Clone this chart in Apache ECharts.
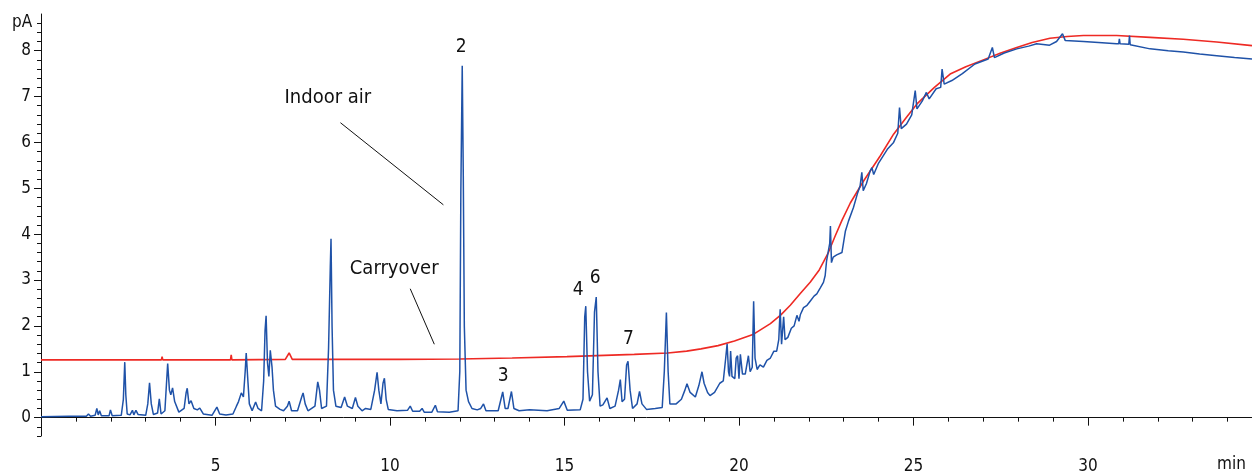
<!DOCTYPE html>
<html>
<head>
<meta charset="utf-8">
<script src="https://cdn.jsdelivr.net/npm/echarts@6/dist/echarts.min.js"></script>
<style>
html,body{margin:0;padding:0;background:#fff;}
#chart{width:1252px;height:473px;}
</style>
</head>
<body>
<div id="chart"></div>
<script>
// chromatogram traces, [time (min), signal (pA)]
var indoorAir = [
  [0.0,0.02],[0.8,0.03],[1.30,0.03],[1.36,0.08],[1.42,0.03],[1.55,0.05],[1.60,0.2],[1.64,0.06],[1.68,0.15],[1.73,0.04],
  [1.95,0.04],[1.99,0.17],[2.04,0.04],[2.30,0.05],[2.36,0.4],[2.40,1.21],[2.43,0.5],[2.47,0.08],[2.55,0.06],[2.62,0.16],
  [2.66,0.06],[2.72,0.16],[2.78,0.07],[3.0,0.05],[3.06,0.3],[3.11,0.76],[3.16,0.3],[3.22,0.07],[3.34,0.1],[3.39,0.41],
  [3.44,0.08],[3.55,0.15],[3.60,0.8],[3.63,1.18],[3.68,0.6],[3.72,0.5],[3.77,0.65],[3.83,0.35],[3.95,0.12],[4.10,0.2],
  [4.16,0.55],[4.19,0.64],[4.24,0.3],[4.30,0.37],[4.38,0.2],[4.48,0.17],[4.55,0.21],[4.65,0.08],[4.9,0.05],[5.04,0.23],
  [5.12,0.08],[5.3,0.06],[5.5,0.08],[5.60,0.25],[5.66,0.35],[5.74,0.54],[5.80,0.45],[5.85,1.0],[5.88,1.41],[5.92,0.9],
  [5.97,0.3],[6.05,0.15],[6.15,0.34],[6.22,0.2],[6.32,0.15],[6.38,0.8],[6.42,1.9],[6.45,2.22],[6.49,1.2],[6.53,0.9],
  [6.57,1.47],[6.62,1.1],[6.66,0.6],[6.72,0.25],[6.85,0.18],[6.95,0.15],[7.06,0.25],[7.11,0.36],[7.18,0.15],[7.35,0.15],
  [7.47,0.45],[7.51,0.54],[7.57,0.3],[7.65,0.15],[7.85,0.25],[7.93,0.78],[7.98,0.6],[8.04,0.2],[8.18,0.25],[8.24,1.52],
  [8.29,3.3],[8.31,3.9],[8.34,2.0],[8.38,0.6],[8.45,0.25],[8.6,0.22],[8.70,0.45],[8.78,0.25],[8.92,0.2],[9.01,0.44],
  [9.08,0.25],[9.2,0.15],[9.3,0.2],[9.45,0.18],[9.56,0.6],[9.63,0.99],[9.68,0.6],[9.74,0.3],[9.80,0.75],[9.84,0.86],
  [9.89,0.4],[9.95,0.18],[10.2,0.15],[10.5,0.16],[10.58,0.25],[10.65,0.14],[10.85,0.14],[10.92,0.2],[10.98,0.12],[11.2,0.12],
  [11.3,0.27],[11.36,0.13],[11.7,0.12],[11.95,0.15],[12.00,1.0],[12.03,4.9],[12.07,7.67],[12.10,5.3],[12.13,2.0],[12.18,0.6],
  [12.25,0.35],[12.35,0.2],[12.5,0.17],[12.6,0.2],[12.68,0.3],[12.75,0.15],[13.1,0.15],[13.23,0.56],[13.3,0.2],[13.38,0.2],
  [13.48,0.57],[13.55,0.2],[13.7,0.15],[14.0,0.17],[14.5,0.15],[14.85,0.2],[14.98,0.36],[15.08,0.16],[15.45,0.17],[15.53,0.4],
  [15.58,2.2],[15.61,2.43],[15.66,1.0],[15.72,0.36],[15.80,0.5],[15.86,2.3],[15.91,2.63],[15.96,1.0],[16.02,0.25],[16.1,0.28],
  [16.22,0.43],[16.3,0.2],[16.45,0.25],[16.55,0.6],[16.6,0.83],[16.65,0.35],[16.72,0.4],[16.78,1.15],[16.82,1.23],[16.88,0.6],
  [16.95,0.2],[17.08,0.3],[17.15,0.57],[17.22,0.3],[17.35,0.18],[17.6,0.2],[17.8,0.22],[17.86,1.0],[17.92,2.29],[17.97,1.0],
  [18.02,0.3],[18.2,0.3],[18.35,0.4],[18.45,0.6],[18.51,0.74],[18.6,0.55],[18.75,0.45],[18.85,0.7],[18.94,1.0],[19.0,0.75],
  [19.1,0.55],[19.17,0.48],[19.3,0.55],[19.45,0.75],[19.55,0.8],[19.62,1.3],[19.66,1.61],[19.7,1.0],[19.73,0.9],[19.76,1.45],
  [19.8,0.9],[19.88,0.85],[19.92,1.3],[19.96,1.35],[20.0,0.85],[20.04,1.38],[20.1,0.95],[20.18,0.95],[20.27,1.35],[20.32,1.0],
  [20.38,1.1],[20.42,2.54],[20.46,1.3],[20.52,1.05],[20.6,1.15],[20.7,1.1],[20.8,1.25],[20.9,1.3],[21.0,1.45],[21.08,1.45],
  [21.14,1.7],[21.18,2.36],[21.22,1.6],[21.28,2.2],[21.32,1.7],[21.4,1.75],[21.5,1.95],[21.58,2.0],[21.66,2.23],[21.72,2.1],
  [21.76,2.25],[21.85,2.4],[21.95,2.45],[22.05,2.55],[22.15,2.65],[22.23,2.7],[22.33,2.83],[22.42,2.95],[22.47,3.1],[22.51,3.42],
  [22.56,3.4],[22.6,3.8],[22.62,4.18],[22.65,3.38],[22.7,3.5],[22.8,3.55],[22.95,3.6],[23.05,4.07],[23.14,4.29],[23.28,4.58],
  [23.4,4.9],[23.47,5.05],[23.52,5.35],[23.56,4.95],[23.65,5.1],[23.76,5.38],[23.81,5.45],[23.86,5.3],[24.0,5.55],[24.1,5.67],
  [24.25,5.85],[24.43,6.0],[24.55,6.2],[24.6,6.76],[24.65,6.3],[24.8,6.4],[24.95,6.6],[25.05,7.13],[25.1,6.73],
  [25.25,6.9],[25.37,7.09],[25.45,6.95],[25.65,7.17],[25.78,7.2],[25.82,7.6],[25.88,7.27],[26.1,7.35],[26.4,7.5],[26.76,7.71],
  [27.14,7.82],[27.26,8.07],[27.32,7.85],[27.6,7.95],[27.96,8.04],[28.3,8.1],[28.53,8.15],[28.9,8.12],[29.1,8.2],[29.27,8.37],
  [29.35,8.22],[29.87,8.2],[30.3,8.18],[30.82,8.15],[30.88,8.15],[30.9,8.26],[30.92,8.15],[31.17,8.14],[31.19,8.33],[31.21,8.13],
  [31.78,8.04],[32.3,8.0],[32.73,7.97],[33.2,7.93],[33.69,7.89],[34.2,7.85],[34.7,7.82]
];
var carryover = [
  [0.0,1.26],[3.45,1.26],[3.47,1.33],[3.49,1.26],[5.43,1.26],[5.45,1.37],[5.47,1.26],[7.0,1.27],[7.11,1.41],[7.2,1.27],
  [10.29,1.27],[12.0,1.28],[13.5,1.3],[15.07,1.33],[17.0,1.38],[17.96,1.41],[18.5,1.45],[18.91,1.5],[19.4,1.57],[19.87,1.67],
  [20.42,1.82],[20.9,2.05],[21.2,2.24],[21.47,2.45],[21.75,2.7],[22.04,2.95],[22.3,3.22],[22.55,3.58],[22.75,3.95],[22.95,4.3],
  [23.19,4.68],[23.57,5.16],[24.05,5.71],[24.43,6.18],[24.8,6.55],[25.10,6.84],[25.6,7.2],[26.05,7.49],[26.5,7.65],[27.0,7.8],
  [27.5,7.95],[27.96,8.07],[28.4,8.18],[28.91,8.27],[29.4,8.31],[29.87,8.33],[30.82,8.33],[31.78,8.29],[32.73,8.25],[33.69,8.19],
  [34.7,8.11]
];

// axis ticks
var yMajorTicks = [0, 1, 2, 3, 4, 5, 6, 7, 8];
var yMinorTicks = [];
for (var k = -2; k <= 43; k++) yMinorTicks.push(+(k * 0.2).toFixed(1));

// text annotations in data coordinates
var noteText = ['Indoor air', 'Carryover', '2', '3', '4', '6', '7'];
var noteTime = [8.22, 10.12, 12.04, 13.24, 15.39, 15.88, 16.83];
var noteValue = [6.98, 3.24, 8.09, 0.91, 2.78, 3.05, 1.71];
// leader lines
var indoorLeader = [[8.58, 6.43], [11.53, 4.64]];
var carryLeader = [[10.58, 2.81], [11.27, 1.6]];

var font = '"DejaVu Sans Condensed", "DejaVu Sans", sans-serif';

var notes = noteText.map(function (t, i) {
    return {
        coord: [noteTime[i], noteValue[i]],
        value: t,
        label: { fontSize: t.length > 1 ? 20 : 19 }
    };
});

var chart = echarts.init(document.getElementById('chart'));
var option = {
    animation: false,
    backgroundColor: '#fff',
    grid: {
        left: 41,
        right: 0,
        top: 14,
        bottom: 37,
        outerBoundsMode: 'none',
        containLabel: false
    },
    graphic: [
        { type: 'text', left: 12, top: 14, style: { text: 'pA', fill: '#111', font: '17px ' + font } },
        { type: 'text', left: 1217, top: 456, style: { text: 'min', fill: '#111', font: '17px ' + font } }
    ],
    xAxis: {
        type: 'value',
        min: 0,
        max: 34.7,
        interval: 5,
        axisLine: { lineStyle: { color: '#111', width: 1 } },
        axisTick: { length: 8, lineStyle: { color: '#111' } },
        minorTick: { show: true, splitNumber: 5, length: 4, lineStyle: { color: '#111' } },
        axisLabel: {
            color: '#111', fontFamily: font, fontSize: 17, margin: 22,
            showMinLabel: false, showMaxLabel: false
        },
        splitLine: { show: false }
    },
    yAxis: [
        {
            type: 'value',
            min: -0.4,
            max: 8.8,
            axisLine: { show: true, lineStyle: { color: '#111', width: 1 } },
            axisTick: { show: true, length: 4, customValues: yMinorTicks, lineStyle: { color: '#111' } },
            axisLabel: { show: false },
            splitLine: { show: false }
        },
        {
            type: 'value',
            min: -0.4,
            max: 8.8,
            position: 'left',
            axisLine: { show: false },
            axisTick: { show: true, length: 7, customValues: yMajorTicks, lineStyle: { color: '#111' } },
            axisLabel: {
                color: '#111', fontFamily: font, fontSize: 17, margin: 10,
                customValues: yMajorTicks
            },
            splitLine: { show: false }
        }
    ],
    series: [
        {
            name: 'Carryover',
            type: 'line',
            data: carryover,
            showSymbol: false,
            lineStyle: { color: '#ee2a24', width: 1.6 },
            z: 2
        },
        {
            name: 'Indoor air',
            type: 'line',
            data: indoorAir,
            showSymbol: false,
            lineStyle: { color: '#1f52a8', width: 1.5 },
            z: 3,
            markLine: {
                silent: true,
                symbol: 'none',
                label: { show: false },
                lineStyle: { color: '#111', width: 1, type: 'solid' },
                data: [
                    [{ coord: indoorLeader[0] }, { coord: indoorLeader[1] }],
                    [{ coord: carryLeader[0] }, { coord: carryLeader[1] }]
                ]
            },
            markPoint: {
                silent: true,
                symbol: 'circle',
                symbolSize: 0,
                label: {
                    show: true,
                    position: 'inside',
                    color: '#111',
                    fontFamily: font,
                    fontSize: 19,
                    formatter: function (p) { return p.value; }
                },
                data: notes
            }
        }
    ]
};
chart.setOption(option);
</script>
</body>
</html>
